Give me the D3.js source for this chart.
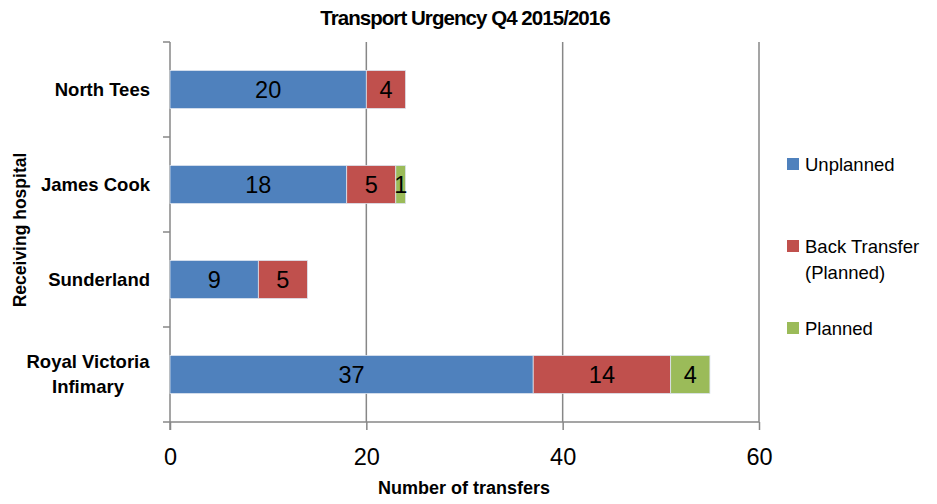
<!DOCTYPE html>
<html><head><meta charset="utf-8">
<script src="https://cdn.jsdelivr.net/npm/d3@7"></script>
<style>body{margin:0;background:#fff}svg{display:block}</style>
</head><body>
<svg id="c" width="937" height="504"></svg>
<script>
const categories = ["North Tees", "James Cook", "Sunderland", "Royal Victoria Infimary"];
const categoryLines = [["North Tees"], ["James Cook"], ["Sunderland"], ["Royal Victoria", "Infimary"]];
const seriesNames = ["Unplanned", "Back Transfer (Planned)", "Planned"];
const legendLines = [["Unplanned"], ["Back Transfer", "(Planned)"], ["Planned"]];
const unplanned = [20, 18, 9, 37];
const backTransfer = [4, 5, 5, 14];
const planned = [0, 1, 0, 4];
const xTicks = [0, 20, 40, 60];
const colors = ["#4F81BD", "#C0504D", "#9BBB59"];

const svg = d3.select("#c");
const font = "'Liberation Sans', Arial, sans-serif";
const L = 170, R = 759, T = 42, B = 422;

const x = d3.scaleLinear().domain([0, 60]).range([L, R]);
const y = d3.scaleBand().domain(categories).range([T, B]).paddingInner(0.6).paddingOuter(0.3);

const rows = categories.map((c, i) => ({cat: c, Unplanned: unplanned[i], "Back Transfer (Planned)": backTransfer[i], Planned: planned[i]}));
const stacked = d3.stack().keys(seriesNames)(rows);

const grey = "#878787";
// gridlines
svg.append("g").selectAll("line").data(xTicks.slice(1)).join("line")
  .attr("x1", d => x(d)).attr("x2", d => x(d)).attr("y1", T).attr("y2", B)
  .attr("stroke", grey).attr("stroke-width", 1.5);

// x axis
const xAxis = svg.append("g").attr("transform", `translate(0,${B})`)
  .call(d3.axisBottom(x).tickValues(xTicks).tickSize(8).tickPadding(18).tickFormat(d3.format("d")));
xAxis.select(".domain").attr("stroke", grey).attr("stroke-width", 1.5).attr("d", `M${L},0H${R}`);
xAxis.selectAll(".tick line").attr("stroke", grey).attr("stroke-width", 1.5);
xAxis.selectAll(".tick text").attr("font-family", font).attr("font-size", 23.5).attr("fill", "#000");

// y axis: ticks at band boundaries
const yBounds = d3.range(categories.length + 1).map(i => T + i * y.step());
svg.append("line").attr("x1", L).attr("x2", L).attr("y1", T).attr("y2", B + 8).attr("stroke", grey).attr("stroke-width", 1.5);
svg.append("g").selectAll("line").data(yBounds).join("line")
  .attr("x1", L - 7).attr("x2", L).attr("y1", d => d).attr("y2", d => d)
  .attr("stroke", grey).attr("stroke-width", 1.5);

// category labels
const catG = svg.append("g");
categories.forEach((c, i) => {
  const lines = categoryLines[i];
  const cy = y(c) + y.bandwidth() / 2;
  const lh = 25;
  lines.forEach((ln, j) => {
    catG.append("text").attr("x", lines.length > 1 ? 88 : 150).attr("y", cy + (j - (lines.length - 1) / 2) * lh)
      .attr("dy", "0.35em").attr("text-anchor", lines.length > 1 ? "middle" : "end")
      .attr("font-family", font).attr("font-weight", "bold").attr("font-size", 18.5).attr("fill", "#000").text(ln);
  });
});

// bars
const barG = svg.append("g");
stacked.forEach((s, si) => {
  barG.selectAll(null).data(s.filter(d => d[1] - d[0] > 0)).join("rect")
    .attr("x", d => x(d[0])).attr("width", d => x(d[1]) - x(d[0]))
    .attr("y", d => y(d.data.cat)).attr("height", y.bandwidth())
    .attr("fill", colors[si]).attr("stroke", "#dbe3ee").attr("stroke-width", 0.8);
  barG.selectAll(null).data(s.filter(d => d[1] - d[0] > 0)).join("text")
    .attr("x", d => (x(d[0]) + x(d[1])) / 2).attr("y", d => y(d.data.cat) + y.bandwidth() / 2)
    .attr("dy", "0.36em").attr("text-anchor", "middle")
    .attr("font-family", font).attr("font-size", 23.5).attr("fill", "#000")
    .text(d => d[1] - d[0]);
});

// title
svg.append("text").attr("x", 465).attr("y", 25).attr("text-anchor", "middle")
  .attr("font-family", font).attr("font-weight", "bold").attr("font-size", 20.5).attr("letter-spacing", -0.95)
  .text("Transport Urgency Q4 2015/2016");

// axis titles
svg.append("text").attr("x", 464).attr("y", 494).attr("text-anchor", "middle")
  .attr("font-family", font).attr("font-weight", "bold").attr("font-size", 18).text("Number of transfers");
svg.append("text").attr("transform", "translate(26,230) rotate(-90)").attr("text-anchor", "middle")
  .attr("font-family", font).attr("font-weight", "bold").attr("font-size", 17.5).text("Receiving hospital");

// legend
const legY = [164, 246, 328];
seriesNames.forEach((n, i) => {
  const g = svg.append("g");
  g.append("rect").attr("x", 787).attr("y", legY[i] - 6).attr("width", 12).attr("height", 12).attr("fill", colors[i]);
  legendLines[i].forEach((ln, j) => {
    g.append("text").attr("x", 805).attr("y", legY[i] + j * 26).attr("dy", "0.36em")
      .attr("font-family", font).attr("font-size", 18.5).attr("fill", "#000").text(ln);
  });
});
</script>
</body></html>
